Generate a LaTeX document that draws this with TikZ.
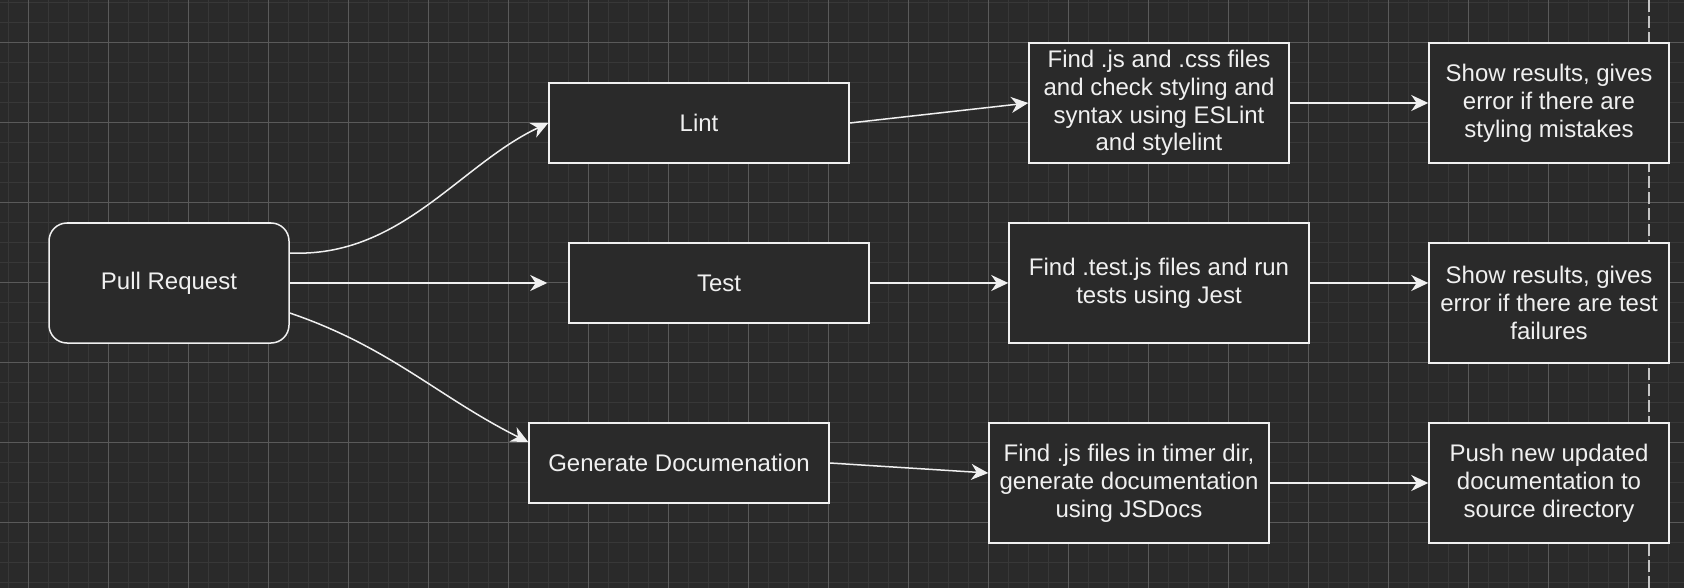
\documentclass[tikz,border=0pt]{standalone}
\usepackage{fontspec}
\setmainfont{Liberation Sans}
\usepackage{xcolor}
\usepackage{tikz}
\usetikzlibrary{arrows.meta,positioning}

\definecolor{canvas}{HTML}{2A2A2A}
\definecolor{gridminor}{HTML}{383838}
\definecolor{gridmajor}{HTML}{5A5A5A}
\definecolor{ink}{HTML}{F0F0F0}
\definecolor{pagebreak}{HTML}{C4C4C4}

\begin{document}
\begin{tikzpicture}[
  x=0.5pt,y=-0.5pt,
  box/.style={draw=ink,fill=canvas,line width=0.75pt,text=ink,align=center,inner sep=0pt,font=\fontsize{12}{13.9}\selectfont},
  prbox/.style={box,rounded corners=9pt,minimum width=120pt,minimum height=60pt},
  stage/.style={box,minimum width=150pt,minimum height=40pt},
  task/.style={box,minimum height=60pt},
  result/.style={box,minimum width=120pt,minimum height=60pt},
  arr/.style={-{Stealth[length=8.5pt,width=8pt,inset=2.7pt]},draw=ink,line width=0.75pt}
]
% canvas and grid
\useasboundingbox (0,0) rectangle (1684,588);
\fill[canvas] (0,0) rectangle (1684,588);
\foreach \gx in {8.5,28.5,...,1684} \draw[gridminor,line width=0.9pt] (\gx,0) -- (\gx,588);
\foreach \gy in {2.5,22.5,...,588} \draw[gridminor,line width=0.9pt] (0,\gy) -- (1684,\gy);
\foreach \gx in {28.5,108.5,...,1684} \draw[gridmajor,line width=0.5pt] (\gx,0) -- (\gx,588);
\foreach \gy in {42.5,122.5,...,588} \draw[gridmajor,line width=0.5pt] (0,\gy) -- (1684,\gy);
\draw[pagebreak,line width=0.6pt,dash pattern=on 6pt off 2pt] (1649,0) -- (1649,588);

\node[prbox] (pr) at (169,283) {Pull Request};
\node[stage] (lint) at (699,123) {Lint};
\node[stage] (test) at (719,283) {Test};
\node[stage] (gendoc) at (679,463) {Generate Documenation};
\node[task,minimum width=130pt] (cssfind) at (1159,103) {Find .js and .css files\\and check styling and\\syntax using ESLint\\and stylelint};
\node[task,minimum width=150pt] (testfind) at (1159,283) {Find .test.js files and run\\tests using Jest};
\node[task,minimum width=140pt] (jsfind) at (1129,483) {Find .js files in timer dir,\\generate documentation\\using JSDocs};
\node[result] (lintres) at (1549,103) {Show results, gives\\error if there are\\styling mistakes};
\node[result] (testres) at (1549,303) {Show results, gives\\error if there are test\\failures};
\node[result] (push) at (1549,483) {Push new updated\\documentation to\\source directory};

\draw[arr] ([yshift=15pt]pr.east) .. controls +(111,5) and +(-89,42) .. (lint.west);
\draw[arr,shorten >=10.5pt] (pr.east) -- (test.west);
\draw[arr] ([yshift=-15pt]pr.east) .. controls +(100,34) and +(-90,-45) .. ([yshift=10.5pt]gendoc.west);
\draw[arr] (lint.east) -- (cssfind.west);
\draw[arr] (test.east) -- (testfind.west);
\draw[arr] (gendoc.east) -- ([yshift=5pt]jsfind.west);
\draw[arr] (cssfind.east) -- (lintres.west);
\draw[arr] (testfind.east) -- (testfind.east -| testres.west);
\draw[arr] (jsfind.east) -- (push.west);
\end{tikzpicture}
\end{document}
